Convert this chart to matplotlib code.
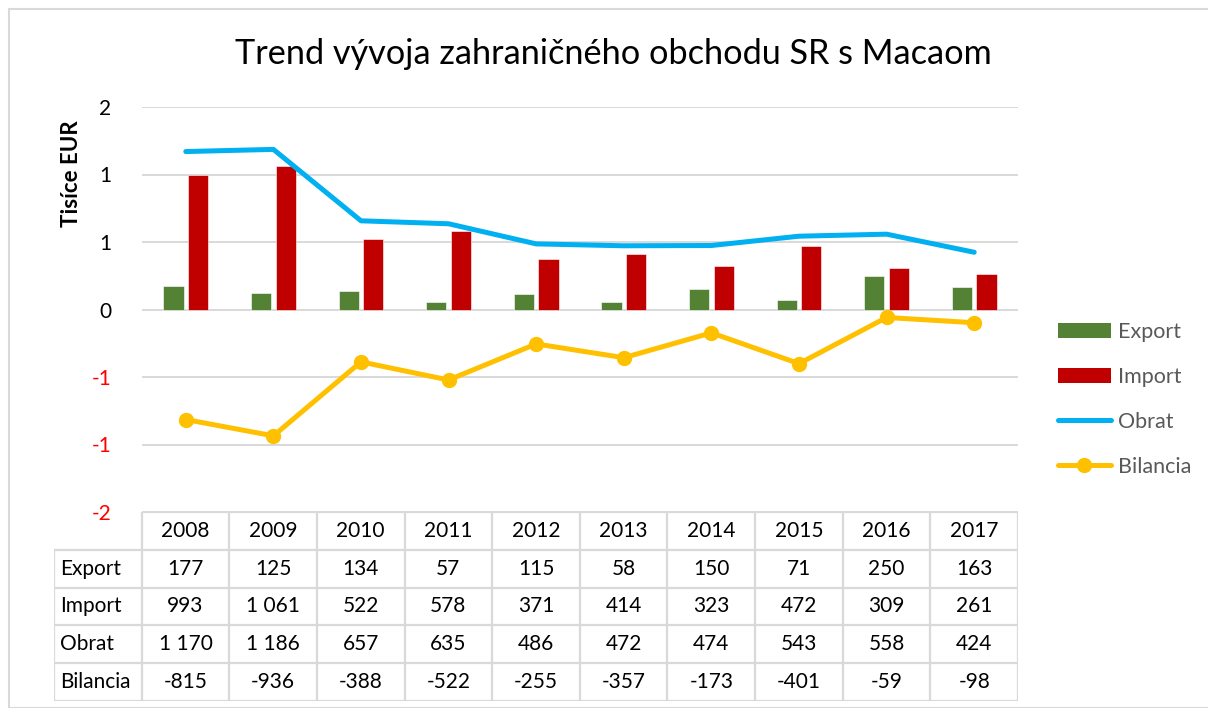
import matplotlib
matplotlib.use("Agg")
import matplotlib.pyplot as plt
from matplotlib.lines import Line2D
from matplotlib.patches import Patch, Rectangle
import numpy as np

plt.rcParams["font.family"] = ["Lato", "DejaVu Sans"]

# ---------------------------------------------------------------------------
# Data (tis. EUR)
# ---------------------------------------------------------------------------
years = ["2008", "2009", "2010", "2011", "2012", "2013", "2014", "2015", "2016", "2017"]
export = [177, 125, 134, 57, 115, 58, 150, 71, 250, 163]
imports = [993, 1061, 522, 578, 371, 414, 323, 472, 309, 261]
obrat = [1170, 1186, 657, 635, 486, 472, 474, 543, 558, 424]
bilancia = [-815, -936, -388, -522, -255, -357, -173, -401, -59, -98]

row_names = ["Export", "Import", "Obrat", "Bilancia"]
y_ticks = [-1.5, -1.0, -0.5, 0.0, 0.5, 1.0, 1.5]

C_EXP = "#548235"
C_IMP = "#C00000"
C_OBR = "#00B0F0"
C_BIL = "#FFC000"
GRID = "#D9D9D9"

W, H = 1208, 708


def fbox(x0, y0, x1, y1):
    """pixel box (top-left origin) -> figure fraction rect"""
    return [x0 / W, 1 - y1 / H, (x1 - x0) / W, (y1 - y0) / H]


def fmt_num(v):
    s = f"{abs(v):,}".replace(",", " ")
    return ("-" if v < 0 else "") + s


def excel_round(v):
    return int(np.sign(v) * np.floor(abs(v) + 0.5))


fig = plt.figure(figsize=(W / 100, H / 100), dpi=100)
fig.patches.append(Rectangle((9 / W, 0), 1.2, 1 - 9 / H, transform=fig.transFigure,
                             fill=False, edgecolor=GRID, linewidth=1.5))

ax = fig.add_axes(fbox(142, 107, 1018, 512))
x = np.arange(len(years))
k = 1000.0

ax.bar(x - 0.14, np.array(export) / k, width=0.23, color=C_EXP, edgecolor="white", linewidth=0.4, zorder=2)
ax.bar(x + 0.14, np.array(imports) / k, width=0.23, color=C_IMP, edgecolor="white", linewidth=0.4, zorder=2)
ax.plot(x, np.array(obrat) / k, color=C_OBR, linewidth=3.6, solid_capstyle="round", zorder=3)
ax.plot(x, np.array(bilancia) / k, color=C_BIL, linewidth=3.6, marker="o", markersize=10,
        solid_capstyle="round", zorder=3)

ax.set_xlim(-0.5, len(years) - 0.5)
ax.set_ylim(-1.5, 1.5)
ax.set_yticks(y_ticks)
ax.set_yticklabels([str(excel_round(v)) for v in y_ticks], fontsize=15)
for lab, v in zip(ax.get_yticklabels(), y_ticks):
    lab.set_color("#FF0000" if v < 0 else "black")
ax.tick_params(axis="y", length=0, pad=22)
ax.set_xticks([])
for v in y_ticks:
    ax.axhline(v, color=GRID, linewidth=1.4, zorder=1)
for s in ax.spines.values():
    s.set_visible(False)

fig.text(72 / W, 1 - 174 / H, "Tisíce EUR", rotation=90, ha="center", va="center",
         fontsize=16, fontweight="bold")
fig.text(613 / W, 1 - 54 / H, "Trend vývoja zahraničného obchodu SR s Macaom",
         ha="center", va="center", fontsize=24.7)

handles = [
    Patch(facecolor=C_EXP),
    Patch(facecolor=C_IMP),
    Line2D([], [], color=C_OBR, linewidth=3.6, solid_capstyle="round"),
    Line2D([], [], color=C_BIL, linewidth=3.6, marker="o", markersize=10, solid_capstyle="round"),
]
leg = fig.legend(handles, row_names, loc="upper left", bbox_to_anchor=(1058 / W, 1 - 322 / H),
                 frameon=False, fontsize=15.5, handlelength=2.45, handletextpad=0.35,
                 labelspacing=1.16, borderpad=0, borderaxespad=0)
for t in leg.get_texts():
    t.set_color("#595959")

# ---------------------------------------------------------------------------
# Data table under the chart
# ---------------------------------------------------------------------------
tab = fig.add_axes(fbox(54, 512, 1018, 701))
tab.set_xlim(-1.5, len(years) - 0.5)
tab.set_ylim(5, 0)
tab.axis("off")
n = len(years)
lkw = dict(color=GRID, linewidth=1.6, solid_capstyle="projecting")
tab.plot([-0.5, n - 0.5], [0, 0], **lkw)
for r in range(1, 6):
    tab.plot([-1.5, n - 0.5], [r, r], **lkw)
tab.plot([-1.5, -1.5], [1, 5], **lkw)
for c in range(n + 1):
    tab.plot([c - 0.5, c - 0.5], [0, 5], **lkw)

for i, yr in enumerate(years):
    tab.text(i, 0.5, yr, ha="center", va="center", fontsize=15)
for r, (name, vals) in enumerate(zip(row_names, [export, imports, obrat, bilancia]), start=1):
    tab.text(-1.43, r + 0.5, name, ha="left", va="center", fontsize=15)
    for i, v in enumerate(vals):
        tab.text(i, r + 0.5, fmt_num(v), ha="center", va="center", fontsize=15)

fig.savefig("out.png", dpi=100, facecolor="white")
